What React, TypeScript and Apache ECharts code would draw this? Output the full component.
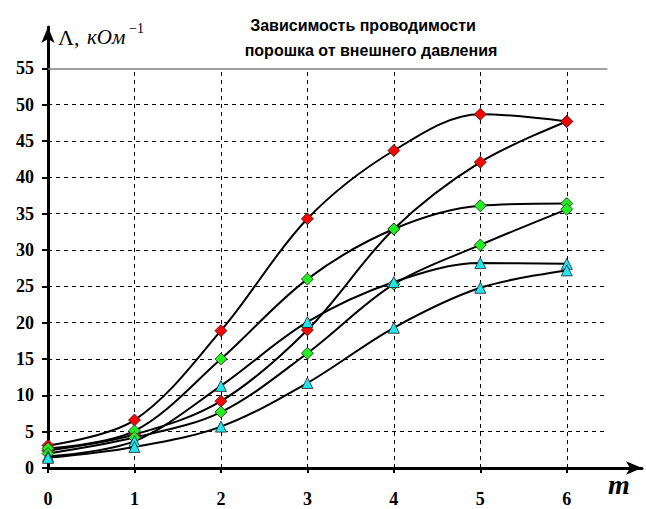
import React, { useEffect, useRef } from "react";
import * as echarts from "echarts";

const xValues = [0, 1, 2, 3, 4, 5, 6];
const redA = [3.1, 6.6, 18.9, 34.3, 43.7, 48.7, 47.7];
const redB = [2.4, 4.6, 9.2, 19.0, 32.9, 42.1, 47.7];
const greenA = [2.7, 5.1, 15.0, 26.0, 32.9, 36.1, 36.4];
const greenB = [2.0, 4.2, 7.7, 15.8, 25.3, 30.7, 35.6];
const cyanA = [1.6, 3.7, 11.3, 20.1, 25.6, 28.2, 28.1];
const cyanB = [1.4, 2.9, 5.7, 11.7, 19.3, 24.8, 27.2];

const xTicks = [0, 1, 2, 3, 4, 5, 6];
const yTicks = [0, 5, 10, 15, 20, 25, 30, 35, 40, 45, 50, 55];
const titleLines = ["Зависимость проводимости", "порошка от внешнего давления"];
const xName = "m";

const GRID_X_END = 6.47;
const GRID_Y_TOP = 55;

export default function App() {
  const ref = useRef<HTMLDivElement>(null);
  useEffect(() => {
    document.body.style.margin = "0";
    const chart = echarts.init(ref.current!, null, { renderer: "svg" });
    const serif = "'Liberation Serif', 'Times New Roman', serif";
    const sans = "'Liberation Sans', Arial, sans-serif";

    const mk = (name: string, data: number[], color: string, symbol: string) => ({
      name,
      type: "line",
      smooth: 0.34,
      data: xValues.map((x, i) => [x, data[i]]),
      symbol,
      symbolSize: symbol === "triangle" ? 11 : 12,
      lineStyle: { color: "#000", width: 2 },
      itemStyle: { color, borderColor: "#222", borderWidth: 0.8 },
      z: 5,
    });

    const hLines = yTicks
      .filter((v) => v > 0)
      .map((v) => [
        {
          coord: [0, v],
          lineStyle:
            v === GRID_Y_TOP
              ? { color: "#808080", type: "solid", width: 1.5 }
              : { color: "#000", type: [4, 4], width: 1 },
        },
        { coord: [GRID_X_END, v] },
      ]);
    const vLines = xTicks
      .filter((v) => v > 0)
      .map((v) => [
        { coord: [v, 0], lineStyle: { color: "#000", type: [4, 4], width: 1 } },
        { coord: [v, GRID_Y_TOP] },
      ]);

    const gridSeries = {
      name: "grid",
      type: "line",
      data: [],
      silent: true,
      z: 1,
      markLine: {
        silent: true,
        symbol: "none",
        label: { show: false },
        animation: false,
        data: [...vLines, ...hLines],
      },
    };

    chart.setOption({
      animation: false,
      grid: { left: 48, right: 4, top: 27, bottom: 41 },
      xAxis: {
        type: "value",
        min: 0,
        max: 6.87,
        splitLine: { show: false },
        axisLine: {
          show: true,
          onZero: false,
          lineStyle: { color: "#000", width: 3 },
          symbol: ["none", "arrow"],
          symbolSize: [10, 16],
        },
        axisTick: {
          show: true,
          customValues: xTicks,
          length: 5,
          lineStyle: { color: "#000", width: 2 },
        },
        axisLabel: {
          customValues: xTicks,
          margin: 22,
          color: "#000",
          fontFamily: serif,
          fontWeight: "bold",
          fontSize: 18,
        },
      },
      yAxis: {
        type: "value",
        min: 0,
        max: 60.7,
        splitLine: { show: false },
        axisLine: {
          show: true,
          onZero: false,
          lineStyle: { color: "#000", width: 3 },
          symbol: ["none", "arrow"],
          symbolSize: [10, 16],
        },
        axisTick: {
          show: true,
          customValues: yTicks,
          length: 6,
          lineStyle: { color: "#000", width: 2 },
        },
        axisLabel: {
          customValues: yTicks,
          margin: 14,
          color: "#000",
          fontFamily: serif,
          fontWeight: "bold",
          fontSize: 18,
        },
      },
      graphic: [
        {
          type: "text",
          x: 363,
          y: 25,
          style: {
            text: titleLines[0],
            font: `bold 16px ${sans}`,
            fill: "#000",
            textAlign: "center",
            textVerticalAlign: "middle",
          },
        },
        {
          type: "text",
          x: 371,
          y: 50,
          style: {
            text: titleLines[1],
            font: `bold 16px ${sans}`,
            fill: "#000",
            textAlign: "center",
            textVerticalAlign: "middle",
          },
        },
        {
          type: "text",
          x: 58,
          y: 37,
          style: {
            text: "Λ,",
            font: `22px ${serif}`,
            fill: "#000",
            textVerticalAlign: "middle",
          },
        },
        {
          type: "text",
          x: 87,
          y: 37,
          style: {
            text: "кОм",
            font: `italic 21px ${serif}`,
            fill: "#000",
            textVerticalAlign: "middle",
          },
        },
        {
          type: "text",
          x: 129,
          y: 28,
          style: {
            text: "−1",
            font: `14px ${serif}`,
            fill: "#000",
            textVerticalAlign: "middle",
          },
        },
        {
          type: "text",
          x: 608,
          y: 484,
          style: {
            text: xName,
            font: `italic bold 28px ${serif}`,
            fill: "#000",
            textVerticalAlign: "middle",
          },
        },
      ],
      series: [
        gridSeries,
        mk("redA", redA, "#ff0000", "diamond"),
        mk("redB", redB, "#ff0000", "diamond"),
        mk("greenA", greenA, "#22ee22", "diamond"),
        mk("greenB", greenB, "#22ee22", "diamond"),
        mk("cyanA", cyanA, "#22e5ee", "triangle"),
        mk("cyanB", cyanB, "#22e5ee", "triangle"),
      ],
    });
    return () => chart.dispose();
  }, []);
  return <div ref={ref} style={{ width: 646, height: 509 }} />;
}
